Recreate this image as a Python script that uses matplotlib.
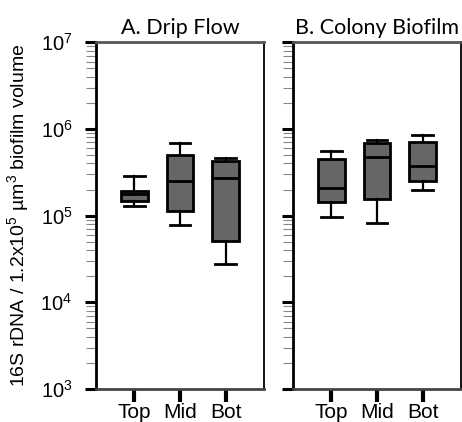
import matplotlib as mpl
import matplotlib.pyplot as plt

mpl.rcParams['font.family'] = 'Liberation Sans'
mpl.rcParams['mathtext.fontset'] = 'custom'
mpl.rcParams['mathtext.rm'] = 'Liberation Sans'

groups = ["Top", "Mid", "Bot"]
panels = ["A. Drip Flow", "B. Colony Biofilm"]

# whisker low, q1, median, q3, whisker high
drip_low = [1.29e5, 7.7e4, 2.75e4]
drip_q1 = [1.48e5, 1.12e5, 5.1e4]
drip_med = [1.77e5, 2.53e5, 2.70e5]
drip_q3 = [1.93e5, 5.0e5, 4.3e5]
drip_high = [2.89e5, 6.8e5, 4.6e5]

col_low = [9.75e4, 8.2e4, 1.98e5]
col_q1 = [1.43e5, 1.56e5, 2.51e5]
col_med = [2.10e5, 4.72e5, 3.74e5]
col_q3 = [4.47e5, 6.84e5, 7.08e5]
col_high = [5.62e5, 7.41e5, 8.53e5]


def make_stats(low, q1, med, q3, high):
    stats = []
    for i in range(len(groups)):
        stats.append(dict(label=groups[i], whislo=low[i], q1=q1[i], med=med[i],
                          q3=q3[i], whishi=high[i], fliers=[]))
    return stats


data = [make_stats(drip_low, drip_q1, drip_med, drip_q3, drip_high),
        make_stats(col_low, col_q1, col_med, col_q3, col_high)]

fig = plt.figure(figsize=(4.62, 4.22), dpi=100)
ax1 = fig.add_axes([96 / 462, 1 - 389 / 422, 168 / 462, 346.7 / 422])
ax2 = fig.add_axes([293 / 462, 1 - 389 / 422, 168 / 462, 346.7 / 422])

for ax, stats, title in zip([ax1, ax2], data, panels):
    ax.bxp(stats, positions=[1, 2, 3], widths=0.59, capwidths=0.45,
           patch_artist=True, showfliers=False,
           boxprops=dict(facecolor='#666666', edgecolor='black', linewidth=2),
           medianprops=dict(color='black', linewidth=2),
           whiskerprops=dict(color='black', linewidth=1.6),
           capprops=dict(color='black', linewidth=2))
    ax.set_yscale('log')
    ax.set_ylim(1e3, 1e7)
    ax.set_xlim(0.16, 3.84)
    ax.set_title(title, fontsize=15.5, family='Lato', pad=6)
    ax.tick_params(axis='y', which='major', length=8, width=2.2, labelsize=14.5, pad=9)
    ax.tick_params(axis='y', which='minor', length=7, width=0.8, color='#888888')
    ax.tick_params(axis='x', which='major', length=9, width=3, labelsize=15, pad=1)
    ax.spines['left'].set_linewidth(2)
    ax.spines['right'].set_linewidth(1.3)
    ax.spines['top'].set_linewidth(2)
    ax.spines['top'].set_color('#555555')
    ax.spines['bottom'].set_linewidth(2)
    ax.spines['bottom'].set_color('#444444')

ax2.tick_params(axis='y', which='both', labelleft=False)
ax1.set_ylabel(r"16S rDNA / 1.2x10$^{5}$ µm$^{3}$ biofilm volume", fontsize=14, labelpad=6)

fig.savefig("out.png")
